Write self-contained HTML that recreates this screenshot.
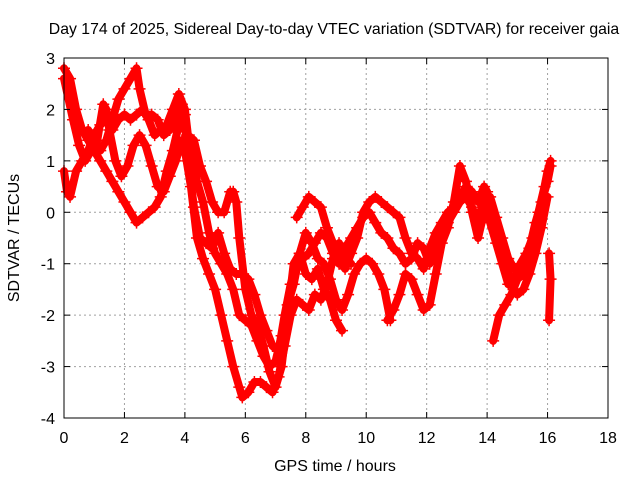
<!DOCTYPE html>
<html><head><meta charset="utf-8"><style>
body{margin:0;background:#fff;}
svg{display:block;font-family:"Liberation Sans",sans-serif;}
</style></head><body>
<svg id="chart" width="640" height="480">
<rect width="640" height="480" fill="#fff"/>
<text x="334" y="34" text-anchor="middle" font-size="15.8">Day 174 of 2025, Sidereal Day-to-day VTEC variation (SDTVAR) for receiver gaia</text>
<g id="grid"></g>
<g id="series"></g>
<rect x="64" y="58" width="544" height="360" fill="none" stroke="#000"/>
<g id="ticks"></g>
<text x="335" y="471" text-anchor="middle" font-size="16">GPS time / hours</text>
<text transform="translate(19,238) rotate(-90)" text-anchor="middle" font-size="16">SDTVAR / TECUs</text>
</svg>
<script>
const xTicks=[0,2,4,6,8,10,12,14,16,18];
const yTicks=[3,2,1,0,-1,-2,-3,-4];
const t1=[[0,2.8],[0.2,2.6],[0.4,2.0],[0.6,1.6],[0.8,1.4],[1.0,1.2],[1.2,1.0],[1.4,0.8],[1.6,0.6],[1.8,0.4],[2.0,0.2],[2.2,0.0],[2.4,-0.2],[2.6,-0.1],[2.8,0.0],[3.0,0.1],[3.2,0.3],[3.4,0.8],[3.6,1.2],[3.8,1.7],[3.9,1.9],[4.0,1.6],[4.2,1.2],[4.4,0.6],[4.6,0.2],[4.8,-0.4],[5.0,-0.8],[5.2,-1.0],[5.4,-1.2],[5.6,-1.5],[5.8,-2.0],[6.0,-2.1],[6.2,-2.2],[6.4,-2.5],[6.6,-2.8],[6.8,-3.0],[7.0,-2.9],[7.2,-2.4],[7.4,-1.8],[7.6,-1.4],[7.8,-0.8],[8.0,-0.4],[8.2,-0.6],[8.4,-0.9],[8.6,-1.0],[8.8,-1.3],[9.0,-1.7],[9.2,-1.9],[9.4,-1.6],[9.6,-1.2],[9.8,-1.0],[10.0,-0.9],[10.2,-1.0],[10.4,-1.2],[10.6,-1.5],[10.8,-2.1]];
const t2=[[0,0.8],[0.1,0.4],[0.2,0.3],[0.4,0.8],[0.6,1.0],[0.8,1.2],[1.0,1.5],[1.2,1.7],[1.4,1.8],[1.6,1.6],[1.8,1.8],[2.0,1.9],[2.2,1.8],[2.4,1.9],[2.6,2.0],[2.8,1.8],[3.0,1.5],[3.2,1.6],[3.4,1.7],[3.6,2.0],[3.8,2.3],[4.0,2.0],[4.1,1.5],[4.3,1.4],[4.5,0.9],[4.7,0.6],[4.9,0.2],[5.1,0.0],[5.3,0.0],[5.5,0.4],[5.6,0.4],[5.7,0.2],[5.8,-0.5],[6.0,-1.5],[6.2,-2.0],[6.4,-2.2],[6.6,-2.6],[6.8,-3.1],[7.0,-3.4],[7.2,-3.0],[7.4,-2.0],[7.6,-1.0],[7.8,-0.8],[8.0,-1.2],[8.2,-1.3],[8.4,-1.1],[8.6,-1.5],[8.8,-1.7],[9.0,-2.1],[9.2,-2.3]];
const t3=[[0,2.6],[0.3,1.8],[0.5,1.3],[0.7,1.0],[0.9,1.2],[1.1,1.4],[1.3,2.1],[1.4,2.0],[1.5,1.6],[1.7,1.0],[1.9,0.7],[2.1,0.9],[2.3,1.3],[2.5,1.5],[2.7,1.3],[2.9,0.9],[3.1,0.5],[3.3,0.4],[3.5,0.7],[3.7,1.0],[3.9,1.4],[4.0,1.2],[4.2,0.5],[4.4,-0.5],[4.6,-0.9],[4.8,-1.2],[5.0,-1.5],[5.2,-2.0],[5.4,-2.5],[5.6,-3.0],[5.8,-3.4],[5.9,-3.6],[6.1,-3.5],[6.3,-3.3],[6.5,-3.3],[6.7,-3.4],[6.9,-3.5],[7.1,-3.2],[7.3,-2.6],[7.5,-2.0],[7.7,-1.7],[7.9,-1.8],[8.1,-1.9],[8.3,-1.6],[8.5,-1.7],[8.7,-1.4],[8.9,-0.9],[9.1,-0.6],[9.3,-0.9],[9.5,-1.0]];
const t4=[[0.8,1.6],[1.0,1.4],[1.2,1.2],[1.4,1.4],[1.6,1.8],[1.8,2.2],[2.0,2.4],[2.2,2.6],[2.4,2.8],[2.5,2.4],[2.7,1.9],[2.9,1.9],[3.1,1.8],[3.3,1.5],[3.5,1.6],[3.7,1.9],[3.9,2.1],[4.0,1.9],[4.1,1.0],[4.3,0.1],[4.5,-0.5],[4.7,-0.6],[4.9,-0.7],[5.1,-0.4],[5.3,-0.8],[5.5,-1.1],[5.7,-1.2],[5.9,-1.2],[6.1,-1.3],[6.3,-1.6],[6.5,-2.0],[6.7,-2.3],[6.9,-2.6],[7.1,-2.7],[7.3,-2.0],[7.5,-1.4],[7.7,-1.0],[7.9,-0.9],[8.1,-0.8],[8.3,-0.6],[8.5,-0.4],[8.7,-0.5],[8.9,-0.8],[9.1,-1.0],[9.3,-0.7],[9.5,-0.5],[9.7,-0.3],[9.9,-0.1],[10.1,0.0],[10.3,-0.2],[10.5,-0.4],[10.7,-0.5],[10.9,-0.7],[11.1,-0.8],[11.3,-1.0],[11.5,-0.9],[11.7,-0.6],[11.9,-0.7],[12.1,-1.0],[12.3,-0.7],[12.5,-0.4],[12.7,-0.2],[12.9,0.0],[13.1,0.2],[13.3,0.3],[13.5,0.1],[13.7,-0.2],[13.9,0.3],[14.1,-0.2],[14.3,-0.6],[14.5,-1.0],[14.7,-1.4],[14.9,-1.3],[15.1,-1.0],[15.3,-0.8],[15.5,-0.5],[15.7,0.0],[15.9,0.5],[16.0,0.8],[16.1,1.0]];
const t5=[[7.7,-0.1],[7.9,0.1],[8.1,0.3],[8.3,0.2],[8.5,0.1],[8.7,-0.3],[8.9,-0.6],[9.1,-0.9],[9.3,-1.1],[9.5,-0.8],[9.7,-0.5],[9.9,0.0],[10.1,0.2],[10.3,0.3],[10.5,0.2],[10.7,0.1],[10.9,0.0],[11.1,-0.1],[11.3,-0.5],[11.5,-0.8],[11.7,-0.9],[11.9,-1.1],[12.1,-0.7],[12.3,-0.4],[12.5,-0.2],[12.7,0.0],[12.9,0.1],[13.1,0.3],[13.3,0.5],[13.5,0.4],[13.7,0.2],[13.9,0.5],[14.0,0.4],[14.2,-0.3],[14.4,-0.6],[14.6,-0.9],[14.8,-1.4],[15.0,-1.6],[15.2,-1.5],[15.4,-1.2],[15.6,-0.8],[15.8,-0.3],[16.0,0.3]];
const t6=[[10.7,-2.1],[10.9,-1.9],[11.1,-1.6],[11.3,-1.2],[11.5,-1.3],[11.7,-1.6],[11.9,-1.9],[12.1,-1.8],[12.3,-1.2],[12.5,-0.6],[12.7,-0.3],[12.9,0.2],[13.1,0.9],[13.3,0.6],[13.5,0.0],[13.7,-0.5],[13.9,0.0],[14.1,0.3],[14.3,-0.1],[14.5,-0.5],[14.7,-0.9],[14.9,-1.1]];
const t7=[[14.2,-2.5],[14.4,-2.0],[14.6,-1.8],[14.8,-1.6],[15.0,-1.3],[15.2,-1.2],[15.4,-0.7],[15.6,-0.2],[15.8,0.2],[16.0,0.6],[16.1,0.9]];
const t8=[[16.05,-0.8],[16.1,-1.3],[16.05,-2.1]];
const NS='http://www.w3.org/2000/svg';
const X0=64,X1=608,Y0=418,Y1=58;
function xs(v){return X0+(v-0)/(18-0)*(X1-X0);}
function ys(v){return Y0-(v+4)/(3+4)*(Y0-Y1);}
function mk(tag,attrs,parent){const e=document.createElementNS(NS,tag);for(const k in attrs)e.setAttribute(k,attrs[k]);parent.appendChild(e);return e;}
const grid=document.getElementById('grid'),ticks=document.getElementById('ticks'),ser=document.getElementById('series');
xTicks.forEach(v=>{const x=xs(v);
 if(v>0&&v<18){const g=mk('line',{x1:x,x2:x,y1:Y1,y2:Y0,stroke:'#a0a0a0','stroke-dasharray':'2,3'},grid);}
 mk('line',{x1:x,x2:x,y1:Y0,y2:Y0-6,stroke:'#000'},ticks);mk('line',{x1:x,x2:x,y1:Y1,y2:Y1+6,stroke:'#000'},ticks);
 const t=mk('text',{x:x,y:443,'text-anchor':'middle','font-size':'16'},ticks);t.textContent=v;
 });
yTicks.forEach(v=>{const y=ys(v);
 if(v>-4&&v<3){const g=mk('line',{x1:X0,x2:X1,y1:y,y2:y,stroke:'#a0a0a0','stroke-dasharray':'2,3'},grid);}
 mk('line',{x1:X0,x2:X0+6,y1:y,y2:y,stroke:'#000'},ticks);mk('line',{x1:X1,x2:X1-6,y1:y,y2:y,stroke:'#000'},ticks);
 const t=mk('text',{x:55,y:y+6,'text-anchor':'end','font-size':'16'},ticks);t.textContent=v;
 });
[t1,t2,t3,t4,t5,t6,t7,t8].forEach((s,i)=>{
 const g=mk('g',{},ser);
 
 
 mk('polyline',{points:s.map(p=>xs(p[0])+','+ys(p[1])).join(' '),fill:'none',stroke:'#ff0000','stroke-width':8,'stroke-linejoin':'round','stroke-linecap':'round'},g);
 let d='';s.forEach(p=>{const x=xs(p[0]),y=ys(p[1]);d+='M'+(x-6)+','+y+'h12M'+x+','+(y-6)+'v12';});
 mk('path',{d:d,stroke:'#ff0000','stroke-width':1.5,fill:'none'},g);
});
</script>
</body></html>
